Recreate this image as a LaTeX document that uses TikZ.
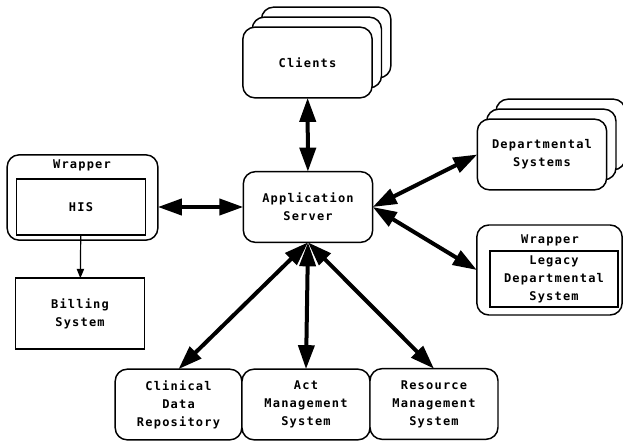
\documentclass[tikz,border=0pt]{standalone}
\usepackage{fontspec}
\newfontfamily\boxfont[LetterSpace=10]{DejaVu Sans Mono}
\usetikzlibrary{arrows.meta,shadows}

\tikzset{
  every node/.style={font=\boxfont\bfseries\fontsize{9}{13.5}\selectfont,
    align=center, inner sep=0pt, outer sep=0pt},
  box/.style={draw, line width=1.1pt, rounded corners=9pt, fill=white,
    minimum width=97pt, minimum height=53pt},
  sqbox/.style={draw, line width=1.1pt, fill=white,
    minimum width=97pt, minimum height=53pt},
  stack/.style={box, double copy shadow={shadow xshift=7pt, shadow yshift=7.5pt}},
  duplex/.style={line width=3pt,
    {Triangle[length=18pt,width=12pt]}-{Triangle[length=18pt,width=12pt]}},
  feed/.style={line width=0.9pt, -{Triangle[length=7pt,width=5.5pt]}},
}

\begin{document}
\begin{tikzpicture}[x=0.75pt,y=-0.75pt]
  \useasboundingbox (0,0) rectangle (623,441);

  % centre and sides
  \node[stack] (clients) at (307.5,62.5) {Clients};
  \node[stack] (depts) at (542,154.5) {Departmental\\Systems};
  \node[box] (app) at (308,207) {Application\\Server};

  % HIS in its wrapper
  \node[box, minimum width=113pt, minimum height=64pt] (hiswrap) at (82.5,197.5) {};
  \node (hislabel) at (82,165) {Wrapper};
  \node[sqbox, minimum height=42pt] (his) at (81,207) {HIS};
  \node[sqbox] (billing) at (80,313.5) {Billing\\System};

  % legacy system in its wrapper
  \node[box, minimum width=109pt, minimum height=67.5pt] (legwrap) at (549.5,270) {};
  \node (leglabel) at (550,240) {Wrapper};
  \node[sqbox, minimum width=96pt, minimum height=42pt] (legacy) at (554,279)
    {Legacy\\Departmental\\System};

  % bottom row
  \node[box, minimum width=95pt] (cdr) at (178.5,404.5) {Clinical\\Data\\Repository};
  \node[box, minimum width=96pt] (act) at (306,404.5) {Act\\Management\\System};
  \node[box, minimum width=96pt] (res) at (434,404) {Resource\\Management\\System};

  \draw[duplex] (clients) -- (app);
  \draw[duplex] (app.west) -- (app.west -| hiswrap.east);
  \draw[duplex] (app.east) -- (depts.west);
  \draw[duplex] (app.east) -- (legwrap.west);
  \draw[duplex] (app.south) -- (cdr.north);
  \draw[duplex] (app.south) -- (act.north);
  \draw[duplex] (app.south) -- (res.north);
  \draw[feed] (his) -- (billing);
\end{tikzpicture}
\end{document}
